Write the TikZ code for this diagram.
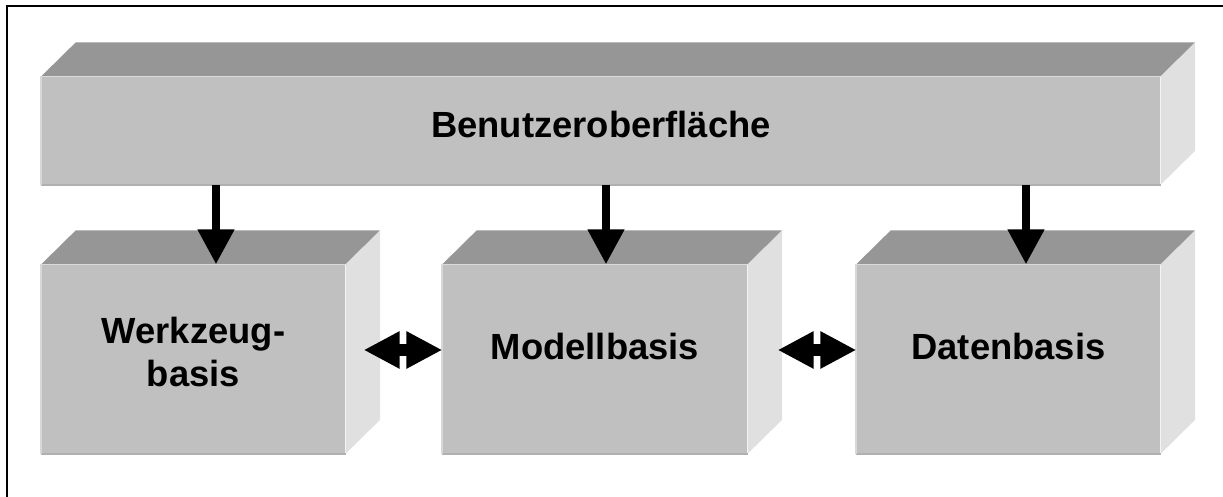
\documentclass[tikz,border=0pt]{standalone}
\usepackage{fontspec}
\setmainfont{Liberation Sans}
\usepackage{xcolor}
\usetikzlibrary{arrows.meta}
\definecolor{BoxFront}{HTML}{C0C0C0}
\definecolor{BoxTop}{HTML}{969696}
\definecolor{BoxSide}{HTML}{E0E0E0}
\definecolor{BoxRim}{HTML}{B0B0B0}
\definecolor{BoxLite}{HTML}{D8D8D8}

\tikzset{
  front/.style={fill=BoxFront,inner sep=0pt},
  boxtext/.style={inner sep=0pt,align=center,font=\bfseries\fontsize{10.35}{12.5}\selectfont},
  downarrow/.style={line width=0.08cm,-{Triangle[width=0.35cm,length=0.35cm]}},
  bothways/.style={line width=0.12cm,{Triangle[width=0.35cm,length=0.36cm]}-{Triangle[width=0.35cm,length=0.36cm]}}
}

\begin{document}
\begin{tikzpicture}[x=1cm,y=1cm]
\useasboundingbox (0,0) rectangle (12.23,4.97);
\draw[line width=0.02cm] (0.07,0) -- (0.07,4.91) -- (12.23,4.91);
% front faces
\node[front,minimum width=11.18cm,minimum height=1.07cm] (ui) at (6.01,3.665) {};
\node[front,minimum width=3.03cm,minimum height=1.88cm] (wz) at (1.935,1.38) {};
\node[front,minimum width=3.04cm,minimum height=1.88cm] (mb) at (5.95,1.38) {};
\node[front,minimum width=3.03cm,minimum height=1.88cm] (db) at (10.085,1.38) {};
% top and side faces
\foreach \b in {ui,wz,mb,db}{
  \fill[BoxTop] (\b.north west) -- ++(0.345,0.34) -- ([shift={(0.345,0.34)}]\b.north east) -- (\b.north east) -- cycle;
  \fill[BoxSide] (\b.north east) -- ++(0.345,0.34) -- ([shift={(0.345,0.34)}]\b.south east) -- (\b.south east) -- cycle;
  \draw[BoxRim,line width=0.6pt] (\b.south west) -- (\b.south east);
  \draw[BoxLite,line width=0.6pt] (\b.south west) -- (\b.north west);
}
% labels
\node[boxtext] (uit) at ([yshift=0.055cm]ui.center) {Benutzeroberfläche};
\node[boxtext] (wzt) at ([yshift=0.07cm]wz.center) {Werkzeug-\\basis};
\node[boxtext] (mbt) at ([yshift=0.12cm]mb.center) {Modellbasis};
\node[boxtext] (dbt) at ([yshift=0.12cm]db.center) {Datenbasis};
% arrows
\coordinate (wzin) at ([xshift=2.25mm]wz.north);
\coordinate (mbin) at ([xshift=1.1mm]mb.north);
\coordinate (dbin) at ([xshift=1.75mm]db.north);
\draw[downarrow] (ui.south -| wzin) -- (wzin);
\draw[downarrow] (ui.south -| mbin) -- (mbin);
\draw[downarrow] (ui.south -| dbin) -- (dbin);
\coordinate (wzmb) at ([shift={(0.18,0.09)}]wz.east);
\coordinate (mbdb) at ([shift={(0.30,0.09)}]mb.east);
\draw[bothways] (wzmb) -- (wzmb -| mb.west);
\draw[bothways] (mbdb) -- (mbdb -| db.west);
\end{tikzpicture}
\end{document}
